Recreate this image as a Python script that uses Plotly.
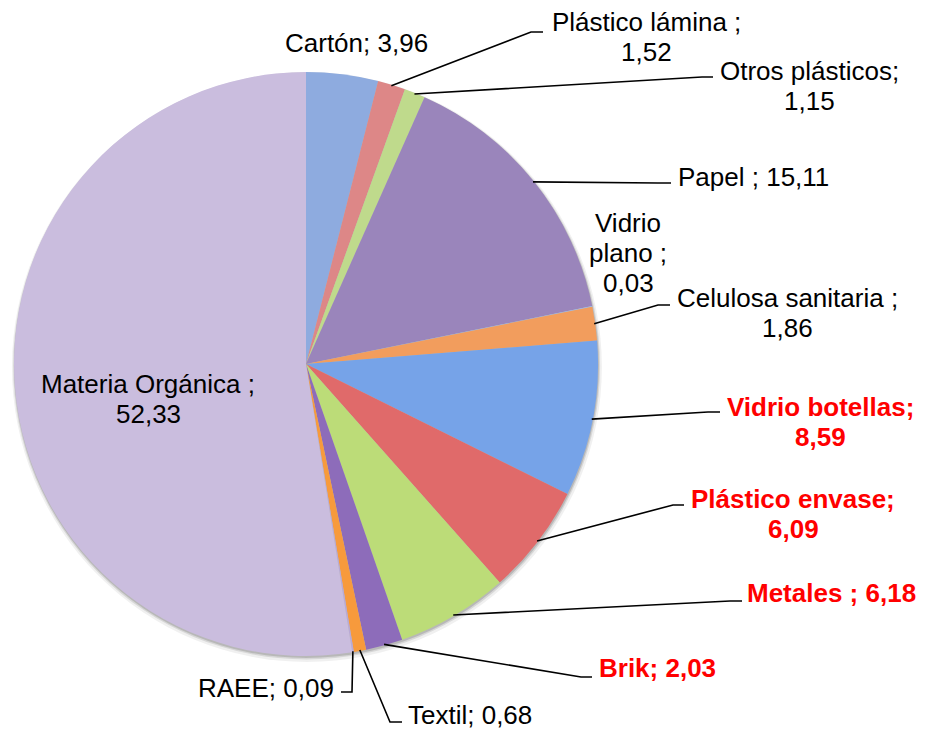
import math
import plotly.graph_objects as go

# Composición de residuos (%)
categorias = [
    "Cartón", "Plástico lámina", "Otros plásticos", "Papel", "Vidrio plano",
    "Celulosa sanitaria", "Vidrio botellas", "Plástico envase", "Metales",
    "Brik", "Textil", "RAEE", "Materia Orgánica",
]
porcentajes = [3.96, 1.52, 1.15, 15.11, 0.03, 1.86, 8.59, 6.09, 6.18, 2.03, 0.68, 0.09, 52.33]
colores = [
    "#8eabdf", "#dd8787", "#bfda8c", "#9a85bb", "#9cbdf0",
    "#f29d5d", "#76a3e8", "#e06a6a", "#bcdc78",
    "#8d6cba", "#f79a3c", "#b9a9d6", "#cabdde",
]
destacadas = {"Vidrio botellas", "Plástico envase", "Metales", "Brik"}

W, H = 927, 729
CX, CY, R = 306, 364, 292


def fx(x):
    return x / W


def fy(y):
    return 1 - y / H


def fmt(v):
    return f"{v:.2f}".replace(".", ",")


# Label lines: (texts, x, y of first line, anchor); "{v}" is the slice value
etiquetas = {
    "Cartón": (["Cartón; {v}"], 356, 43, "center"),
    "Plástico lámina": (["Plástico lámina ;", "{v}"], 646, 22, "center"),
    "Otros plásticos": (["Otros plásticos;", "{v}"], 809, 71, "center"),
    "Papel": (["Papel ; {v}"], 676, 177, "left"),
    "Vidrio plano": (["Vidrio", "plano ;", "{v}"], 628, 223, "center"),
    "Celulosa sanitaria": (["Celulosa sanitaria ;", "{v}"], 787, 298, "center"),
    "Vidrio botellas": (["Vidrio botellas;", "{v}"], 820, 407, "center"),
    "Plástico envase": (["Plástico envase;", "{v}"], 793, 499, "center"),
    "Metales": (["Metales ; {v}"], 745, 593, "left"),
    "Brik": (["Brik; {v}"], 597, 668, "left"),
    "Textil": (["Textil; {v}"], 406, 715, "left"),
    "RAEE": (["RAEE; {v}"], 336, 688, "right"),
    "Materia Orgánica": (["Materia Orgánica ;", "{v}"], 148, 384, "center"),
}

# Leader lines: elbow point and end point (pixels)
guias = {
    "Plástico lámina": ((531, 32), (543, 32)),
    "Otros plásticos": ((702, 77), (713, 77)),
    "Papel": ((658, 183), (671, 183)),
    "Celulosa sanitaria": ((658, 305), (670, 305)),
    "Vidrio botellas": ((708, 412), (720, 412)),
    "Plástico envase": ((673, 505), (684, 505)),
    "Metales": ((730, 601), (742, 601)),
    "Brik": ((581, 677), (592, 677)),
    "Textil": ((390, 722), (402, 722)),
    "RAEE": ((352, 692), (341, 692)),
}

fig = go.Figure()
fig.add_trace(go.Pie(
    labels=categorias,
    values=porcentajes,
    marker=dict(colors=colores, line=dict(width=0)),
    sort=False,
    direction="clockwise",
    rotation=0,
    textinfo="none",
    hoverinfo="label+value",
    showlegend=False,
    domain=dict(x=[fx(CX - R), fx(CX + R)], y=[fy(CY + R), fy(CY - R)]),
))

shapes = []
# soft drop shadow under the pie
for off, grow, alpha in [(3, 3, 0.06), (2, 1.5, 0.10), (1.5, 0.5, 0.14)]:
    shapes.append(dict(
        type="circle", xref="paper", yref="paper", layer="below",
        x0=fx(CX - R - grow + off * 0.3), x1=fx(CX + R + grow + off * 0.3),
        y0=fy(CY + R + grow + off), y1=fy(CY - R - grow + off),
        fillcolor=f"rgba(0,0,0,{alpha})", line=dict(width=0),
    ))

annotations = []
total = sum(porcentajes)
acum = 0.0
for cat, val in zip(categorias, porcentajes):
    medio = (acum + val / 2) / total * 2 * math.pi
    acum += val
    sx = CX + (R - 1) * math.sin(medio)
    sy = CY - (R - 1) * math.cos(medio)
    if cat in guias:
        (ex, ey), (tx, ty) = guias[cat]
        path = f"M {fx(sx)},{fy(sy)} L {fx(ex)},{fy(ey)} L {fx(tx)},{fy(ty)}"
        shapes.append(dict(type="path", xref="paper", yref="paper", path=path,
                           line=dict(color="black", width=1.6)))
    lineas, lx, ly, anc = etiquetas[cat]
    rojo = cat in destacadas
    for i, t in enumerate(lineas):
        texto = t.replace("{v}", fmt(val))
        if rojo:
            texto = f"<b>{texto}</b>"
        annotations.append(dict(
            x=fx(lx), y=fy(ly + i * 30), xref="paper", yref="paper",
            text=texto, showarrow=False, xanchor=anc, yanchor="middle",
            font=dict(family="Liberation Sans, Arial, sans-serif", size=26,
                      color="#ff0000" if rojo else "#000000"),
        ))

fig.update_layout(
    width=W, height=H,
    margin=dict(l=0, r=0, t=0, b=0),
    paper_bgcolor="white",
    plot_bgcolor="white",
    shapes=shapes,
    annotations=annotations,
)

fig.write_html("out.html")
